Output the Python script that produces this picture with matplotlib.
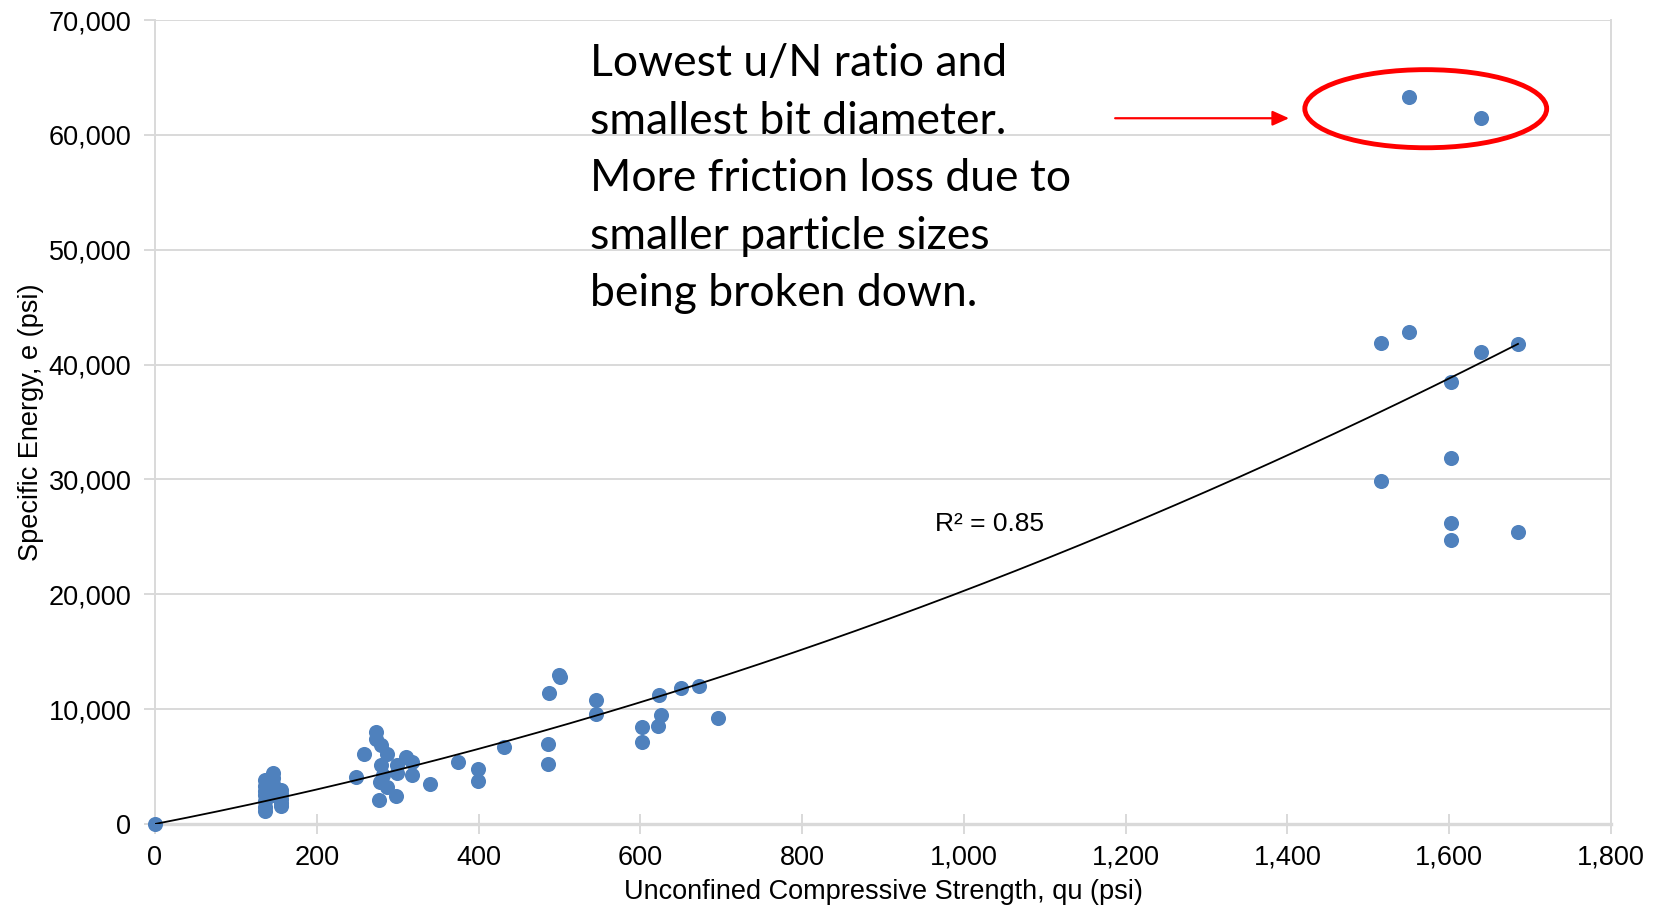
import matplotlib
matplotlib.use("Agg")
import matplotlib.pyplot as plt
from matplotlib.patches import Ellipse
from matplotlib.ticker import FuncFormatter, MultipleLocator
import numpy as np

# unconfined compressive strength (psi) vs specific energy (psi)
qu = [0,
      136, 136, 136, 136, 136, 136, 136,
      146, 146, 146, 146, 146,
      156, 156, 156, 156, 156,
      249, 258, 273, 273, 280, 287, 310, 318, 280, 299, 282, 299, 318,
      278, 340, 287, 277, 298,
      375, 399, 399, 432, 486, 486, 487, 499, 501, 545, 545,
      602, 602, 622, 626, 623, 650, 673, 696,
      1516, 1550, 1639, 1685, 1602, 1602, 1516, 1602, 1602, 1685,
      1550, 1639]
energy = [0,
          3800, 3300, 2900, 2500, 2000, 1500, 1100,
          4400, 4000, 3500, 3000, 2500,
          3000, 2600, 2200, 1800, 1600,
          4100, 6130, 8020, 7440, 6860, 6130, 5840, 5400, 5120, 5120, 4250, 4400, 4250,
          3670, 3460, 3230, 2080, 2430,
          5410, 4830, 3730, 6710, 6930, 5260, 11420, 12950, 12800, 10780, 9620,
          8450, 7150, 8520, 9480, 11270, 11850, 12000, 9190,
          41900, 42850, 41060, 41760, 38500, 31880, 29880, 26170, 24710, 25410,
          63290, 61450]

# second order trendline through the origin, e = a*qu + b*qu^2
trend_a = 13.72
trend_b = 0.00658
r_squared = 0.85

note_lines = ["Lowest u/N ratio and",
              "smallest bit diameter.",
              "More friction loss due to",
              "smaller particle sizes",
              "being broken down."]

blue = "#4F81BD"
grid_grey = "#D9D9D9"

plt.rcParams["font.family"] = ["Liberation Sans", "DejaVu Sans"]

fig = plt.figure(figsize=(16.54, 9.11), dpi=100)
ax = fig.add_axes([0.0937, 0.0955, 0.8803, 0.8825])

ax.scatter(qu, energy, s=118, color=blue, zorder=3, linewidths=0, clip_on=False)

xs = np.linspace(0, max(qu), 300)
ax.plot(xs, trend_a * xs + trend_b * xs ** 2, color="black", lw=1.3, zorder=4)

ax.set_xlim(0, 1800)
ax.set_ylim(0, 70000)
ax.xaxis.set_major_locator(MultipleLocator(200))
ax.yaxis.set_major_locator(MultipleLocator(10000))
fmt = FuncFormatter(lambda v, p: f"{v:,.0f}")
ax.xaxis.set_major_formatter(fmt)
ax.yaxis.set_major_formatter(fmt)

ax.grid(axis="y", color=grid_grey, lw=1.4, zorder=0)
ax.set_axisbelow(True)
ax.spines["top"].set_visible(False)
for side in ("left", "right"):
    ax.spines[side].set_color(grid_grey)
    ax.spines[side].set_linewidth(1.4)
ax.spines["bottom"].set_color(grid_grey)
ax.spines["bottom"].set_linewidth(2.4)

ax.tick_params(axis="x", direction="inout", length=14, width=1.4, color=grid_grey,
               labelsize=19.5, pad=8)
ax.tick_params(axis="y", direction="out", length=8, width=1.4, color=grid_grey,
               labelsize=19.5, pad=9)

ax.set_xlabel("Unconfined Compressive Strength, qu (psi)", fontsize=19.5, labelpad=6)
ax.set_ylabel("Specific Energy, e (psi)", fontsize=19.5, labelpad=3)

ax.text(964, 25500, f"R\u00b2 = {r_squared:.2f}", fontsize=19, va="baseline", ha="left")

# callout for the two outliers
for i, line in enumerate(note_lines):
    ax.text(538, 65100 - 5000 * i, line, fontsize=32, family=["Lato", "DejaVu Sans"],
            va="baseline", ha="left")

ax.add_patch(Ellipse((1571, 62280), 299, 6800, fill=False, edgecolor="red", lw=3.5, zorder=5))
ax.annotate("", xy=(1402, 61450), xytext=(1187, 61450),
            arrowprops=dict(arrowstyle="-|>,head_length=1.0,head_width=0.45",
                            color="red", lw=1.6, shrinkA=0, shrinkB=0))

fig.savefig("out.png", dpi=100)
